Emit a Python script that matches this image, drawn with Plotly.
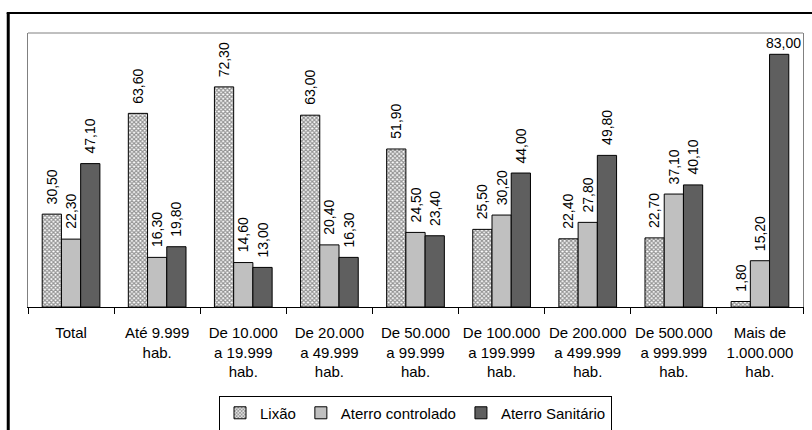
import plotly.graph_objects as go

categories = [
    "Total",
    "Até 9.999<br>hab.",
    "De 10.000<br>a 19.999<br>hab.",
    "De 20.000<br>a 49.999<br>hab.",
    "De 50.000<br>a 99.999<br>hab.",
    "De 100.000<br>a 199.999<br>hab.",
    "De 200.000<br>a 499.999<br>hab.",
    "De 500.000<br>a 999.999<br>hab.",
    "Mais de<br>1.000.000<br>hab.",
]
lixao = [30.5, 63.6, 72.3, 63.0, 51.9, 25.5, 22.4, 22.7, 1.8]
aterro_controlado = [22.3, 16.3, 14.6, 20.4, 24.5, 30.2, 27.8, 37.1, 15.2]
aterro_sanitario = [47.1, 19.8, 13.0, 16.3, 23.4, 44.0, 49.8, 40.1, 83.0]

series_names = ["Lixão", "Aterro controlado", "Aterro Sanitário"]
series_values = [lixao, aterro_controlado, aterro_sanitario]

FONT = "Liberation Sans, Arial, sans-serif"
Y_MAX = 90

fig = go.Figure()

fig.add_trace(go.Bar(
    name=series_names[0], x=categories, y=lixao,
    marker=dict(color="white", line=dict(color="black", width=1),
                pattern=dict(shape="x", size=3, solidity=0.65,
                             fgcolor="#2a2a2a", bgcolor="white")),
))
fig.add_trace(go.Bar(
    name=series_names[1], x=categories, y=aterro_controlado,
    marker=dict(color="#c0c0c0", line=dict(color="black", width=1)),
))
fig.add_trace(go.Bar(
    name=series_names[2], x=categories, y=aterro_sanitario,
    marker=dict(color="#5f5f5f", line=dict(color="black", width=1)),
))

def fmt(v):
    return f"{v:.2f}".replace(".", ",")

# value labels above each bar (rotated, except when the bar nearly fills the plot)
bar_px = 19.3
annotations = []
for si, vals in enumerate(series_values):
    shift = (si - 1) * bar_px
    for cat, v in zip(categories, vals):
        if v > 75:
            annotations.append(dict(
                x=cat, y=v, xref="x", yref="y", text=fmt(v), showarrow=False,
                xshift=shift + 4, yshift=1, yanchor="bottom", xanchor="center",
                font=dict(family=FONT, size=14, color="black")))
        else:
            annotations.append(dict(
                x=cat, y=v, xref="x", yref="y", text=fmt(v), showarrow=False,
                textangle=-90, xshift=shift, yshift=8, yanchor="bottom",
                xanchor="center",
                font=dict(family=FONT, size=14, color="black")))

shapes = [
    # top edge of the plot frame
    dict(type="line", xref="paper", yref="paper", x0=0, x1=1, y0=1, y1=1,
         line=dict(color="#808080", width=1)),
    # outer chart frame (left and top)
    dict(type="line", xref="paper", yref="paper", x0=-0.0255, x1=-0.0255,
         y0=-0.45, y1=1.073, line=dict(color="black", width=3)),
    dict(type="line", xref="paper", yref="paper", x0=-0.0275, x1=1.02,
         y0=1.073, y1=1.073, line=dict(color="black", width=2)),
]

fig.update_layout(
    width=812, height=430,
    margin=dict(l=28, r=9, t=33, b=123, autoexpand=False),
    paper_bgcolor="white", plot_bgcolor="white",
    barmode="group", bargap=0.33, bargroupgap=0,
    font=dict(family=FONT, size=15, color="black"),
    showlegend=True,
    legend=dict(orientation="h", x=0.50, y=-0.387, xanchor="center",
                yanchor="middle", bordercolor="black", borderwidth=1,
                bgcolor="white", font=dict(family=FONT, size=15),
                itemwidth=30, tracegroupgap=0),
    annotations=annotations,
    shapes=shapes,
)
fig.update_xaxes(
    showline=True, linecolor="black", linewidth=1,
    ticks="outside", tickson="boundaries", ticklen=6, tickcolor="black",
    tickangle=0, ticklabelstandoff=12, automargin=False,
    tickfont=dict(family=FONT, size=15, color="black"),
    showgrid=False, zeroline=False,
)
fig.update_yaxes(
    range=[0, Y_MAX], showline=True, linecolor="#808080", linewidth=1,
    mirror=True, showticklabels=False, ticks="", showgrid=False,
    zeroline=False, automargin=False,
)

fig.write_html("out.html")
